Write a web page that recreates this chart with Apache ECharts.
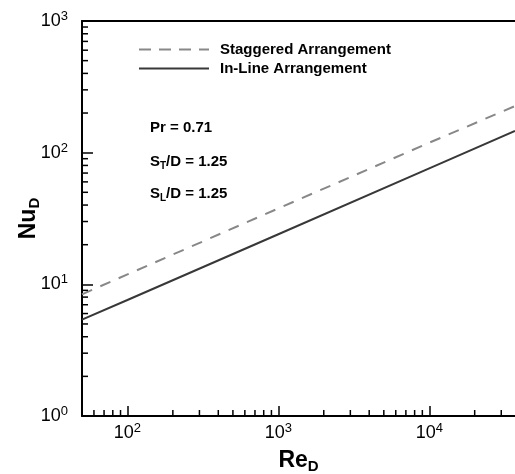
<!DOCTYPE html>
<html>
<head>
<meta charset="utf-8">
<script src="https://cdn.jsdelivr.net/npm/echarts@6/dist/echarts.min.js"></script>
<style>
  html, body { margin: 0; padding: 0; background: #fff; }
  #chart { width: 515px; height: 474px; }
</style>
</head>
<body>
<div id="chart"></div>
<script>
// values (Re_D, Nu_D)
var reD = [50, 100, 1000, 10000, 37000];
var nuStaggered = [8.4, 11.9, 37.7, 119, 226];
var nuInLine = [5.4, 7.6, 24, 76, 146];

var xRange = [50, 37000];
var yRange = [1, 1000];
// minor ticks 2..9 of each decade
var xMinorTicks = [60, 70, 80, 90, 200, 300, 400, 500, 600, 700, 800, 900,
  2000, 3000, 4000, 5000, 6000, 7000, 8000, 9000, 20000, 30000];
var yMinorTicks = [2, 3, 4, 5, 6, 7, 8, 9, 20, 30, 40, 50, 60, 70, 80, 90,
  200, 300, 400, 500, 600, 700, 800, 900];

var FONT = "'Liberation Sans', Arial, Helvetica, sans-serif";

function powLabel(value) {
  var e = Math.round(Math.log10(value));
  if (Math.abs(value - Math.pow(10, e)) > 1e-6 * value) return '';
  return '{b|10}{s|' + e + '}';
}

var powRich = {
  b: { fontSize: 18, lineHeight: 22, fontFamily: FONT, color: '#000' },
  s: { fontSize: 13, lineHeight: 8, verticalAlign: 'top', fontFamily: FONT, color: '#000' }
};

var noteRich = {
  m: { fontSize: 15, fontWeight: 'bold', fontFamily: FONT, color: '#000', lineHeight: 18 },
  sub: { fontSize: 10, fontWeight: 'bold', fontFamily: FONT, color: '#000', verticalAlign: 'bottom', lineHeight: 6 }
};

function pair(xs, ys) {
  return xs.map(function (x, i) { return [x, ys[i]]; });
}

// 对数轴的小刻度，用自定义系列按坐标轴换算位置
function minorTicks(points, dir) {
  return {
    type: 'custom',
    silent: true,
    clip: false,
    z: 5,
    data: points,
    renderItem: function (params, api) {
      var p = api.coord([api.value(0), api.value(1)]);
      return {
        type: 'line',
        shape: {
          x1: p[0], y1: p[1],
          x2: dir === 'x' ? p[0] : p[0] + 6,
          y2: dir === 'x' ? p[1] - 6 : p[1]
        },
        style: { stroke: '#000', lineWidth: 1.5 }
      };
    }
  };
}

var chart = echarts.init(document.getElementById('chart'));

var option = {
  animation: false,
  backgroundColor: '#fff',
  grid: { left: 82, top: 21, right: 0, bottom: 58, outerBoundsMode: 'none', containLabel: false },
  legend: {
    orient: 'vertical',
    left: 138,
    top: 42,
    padding: 0,
    itemWidth: 70,
    itemHeight: 14,
    itemGap: 4,
    itemStyle: { opacity: 0 },
    lineStyle: { width: 2 },
    textStyle: { fontFamily: FONT, fontWeight: 'bold', fontSize: 15, color: '#000', padding: [0, 0, 0, 6] },
    data: [
      { name: 'Staggered Arrangement', lineStyle: { width: 2, type: [12, 8] } },
      { name: 'In-Line Arrangement', lineStyle: { width: 2 } }
    ]
  },
  xAxis: [{
    type: 'log',
    logBase: 10,
    min: xRange[0],
    max: xRange[1],
    name: '{r|Re}{d|D}',
    nameLocation: 'middle',
    nameGap: 32,
    nameTextStyle: {
      rich: {
        r: { fontSize: 23, fontWeight: 'bold', lineHeight: 26, fontFamily: FONT, color: '#000' },
        d: { fontSize: 15, fontWeight: 'bold', lineHeight: 10, verticalAlign: 'bottom', fontFamily: FONT, color: '#000' }
      }
    },
    axisLine: { show: true, lineStyle: { color: '#000', width: 2 } },
    axisTick: { show: true, inside: true, length: 10, lineStyle: { color: '#000', width: 1.5 } },
    axisLabel: { formatter: powLabel, rich: powRich, margin: 6, showMinLabel: false, showMaxLabel: false },
    splitLine: { show: false }
  }, {
    type: 'log',
    logBase: 10,
    position: 'top',
    min: xRange[0],
    max: xRange[1],
    axisLine: { show: true, lineStyle: { color: '#000', width: 2 } },
    axisTick: { show: false },
    axisLabel: { show: false },
    splitLine: { show: false }
  }],
  yAxis: {
    type: 'log',
    logBase: 10,
    min: yRange[0],
    max: yRange[1],
    name: '{n|Nu}{d|D}',
    nameLocation: 'middle',
    nameGap: 40,
    nameMoveOverlap: false,
    nameTextStyle: {
      rich: {
        n: { fontSize: 23, fontWeight: 'bold', lineHeight: 26, fontFamily: FONT, color: '#000' },
        d: { fontSize: 15, fontWeight: 'bold', lineHeight: 6, verticalAlign: 'bottom', fontFamily: FONT, color: '#000' }
      }
    },
    axisLine: { show: true, lineStyle: { color: '#000', width: 2 } },
    axisTick: { show: true, inside: true, length: 11, lineStyle: { color: '#000', width: 1.5 } },
    axisLabel: { formatter: powLabel, rich: powRich, margin: 14 },
    splitLine: { show: false }
  },
  graphic: [{
    type: 'text', x: 150, y: 128,
    style: { text: '{m|Pr = 0.71}', verticalAlign: 'middle', rich: noteRich }
  }, {
    type: 'text', x: 150, y: 162,
    style: { text: '{m|S}{sub|T}{m|/D = 1.25}', verticalAlign: 'middle', rich: noteRich }
  }, {
    type: 'text', x: 150, y: 194,
    style: { text: '{m|S}{sub|L}{m|/D = 1.25}', verticalAlign: 'middle', rich: noteRich }
  }],
  series: [{
    name: 'Staggered Arrangement',
    type: 'line',
    symbol: 'none',
    data: pair(reD, nuStaggered),
    lineStyle: { color: '#888', width: 2, type: [11, 9] },
    itemStyle: { color: '#888' }
  }, {
    name: 'In-Line Arrangement',
    type: 'line',
    symbol: 'none',
    data: pair(reD, nuInLine),
    lineStyle: { color: '#383838', width: 2 },
    itemStyle: { color: '#383838' }
  },
  minorTicks(xMinorTicks.map(function (v) { return [v, yRange[0]]; }), 'x'),
  minorTicks(yMinorTicks.map(function (v) { return [xRange[0], v]; }), 'y')
  ]
};

chart.setOption(option);
</script>
</body>
</html>
